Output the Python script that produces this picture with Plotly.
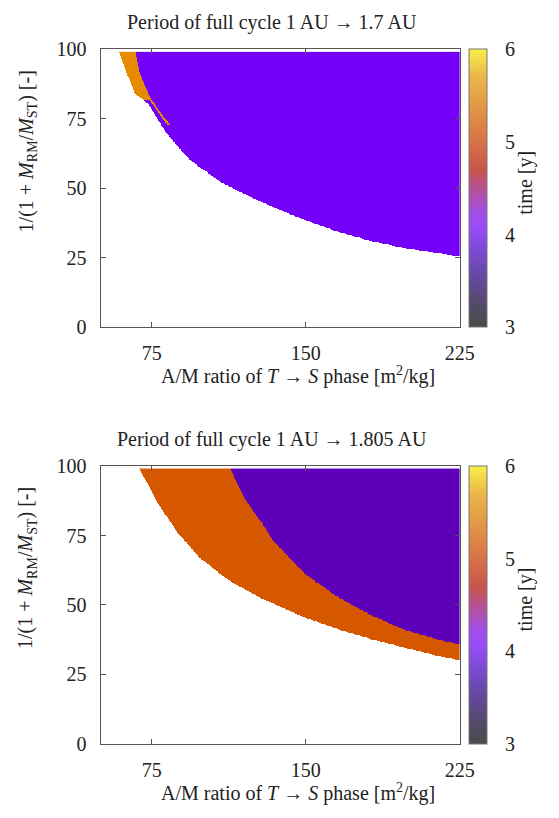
import numpy as np
import plotly.graph_objects as go

W, H = 559, 818

# ---------------- data ----------------
# Top panel: 1 AU -> 1.7 AU
top_title = "Period of full cycle 1 AU → 1.7 AU"
top_lower_x = [59.0, 66.6, 72.9, 82.4, 93.5, 109.2, 125.1, 136.1, 149.5, 165.4, 181.1, 196.9, 212.7, 225.0]
top_lower_y = [99.0, 84.2, 80.7, 69.6, 60.2, 52.0, 46.2, 42.7, 38.6, 34.5, 31.2, 28.7, 26.9, 25.6]
top_orange_edge_y = [82.0, 91.8, 99.0]
top_orange_edge_x = [74.5, 69.0, 67.1]
top_sliver_y = [72.8, 82.0]
top_sliver_x = [83.2, 74.2]
top_time_main = 3.65     # purple region
top_time_alt = 5.35      # orange region

# Bottom panel: 1 AU -> 1.805 AU
bot_title = "Period of full cycle 1 AU → 1.805 AU"
bot_lower_x = [69.0, 77.7, 87.2, 98.2, 112.4, 128.2, 149.5, 165.4, 181.1, 197.1, 212.7, 225.0]
bot_lower_y = [99.0, 86.9, 76.4, 67.1, 58.9, 52.5, 45.5, 41.4, 37.9, 34.9, 32.0, 30.1]
bot_mid_x = [113.2, 120.3, 128.2, 133.7, 149.5, 165.4, 181.1, 197.1, 212.7, 225.0]
bot_mid_y = [99.2, 88.1, 79.9, 73.5, 61.2, 53.0, 46.6, 41.4, 37.9, 35.8]
bot_time_main = 3.45     # purple region
bot_time_alt = 4.95      # orange region

x_ticks = [75, 150, 225]
y_ticks = [0, 25, 50, 75, 100]
c_ticks = [3, 4, 5, 6]
c_min, c_max = 3, 6

# ---------------- grid ----------------
xs = np.arange(50.0, 225.01, 0.25)
ys = np.arange(0.0, 99.01, 0.25)
X, Y = np.meshgrid(xs, ys)

# top
lb = np.interp(X, top_lower_x, top_lower_y, left=1e9, right=1e9)
inside = Y >= lb
z_top = np.where(inside, top_time_main, np.nan)
edge = np.interp(Y, top_orange_edge_y, top_orange_edge_x)
orange = inside & (Y >= 82.0) & (X <= edge)
sl = np.interp(Y, top_sliver_y, top_sliver_x)
sliver = inside & (Y >= top_sliver_y[0]) & (Y < 82.0) & (np.abs(X - sl) <= 0.6)
z_top = np.where(orange | sliver, top_time_alt, z_top)

# bottom
lb2 = np.interp(X, bot_lower_x, bot_lower_y, left=1e9, right=1e9)
inside2 = Y >= lb2
mid = np.interp(X, bot_mid_x, bot_mid_y, left=1e9)
z_bot = np.where(inside2, np.where(Y < mid, bot_time_alt, bot_time_main), np.nan)

# ---------------- palettes ----------------
def n(v):
    return (v - c_min) / (c_max - c_min)

fill_scale = [
    [0.0, "#4a4a4a"],
    [n(bot_time_main), "#5d00b9"],
    [n(top_time_main), "#7500f7"],
    [n(bot_time_alt), "#d55800"],
    [n(top_time_alt), "#e68a00"],
    [1.0, "#f5ee50"],
]
bar_scale = [
    [0.00, "#4b4b4b"],
    [0.07, "#524a62"],
    [0.15, "#5f4890"],
    [0.27, "#7a4ad4"],
    [0.36, "#9a4cfa"],
    [0.41, "#a04ee6"],
    [0.46, "#ad50b8"],
    [0.52, "#bc5280"],
    [0.56, "#c5554c"],
    [0.66, "#d67048"],
    [0.78, "#e19446"],
    [0.90, "#ebb54a"],
    [1.00, "#f8f048"],
]

FONT = dict(family="Liberation Serif", size=20, color="#222222")

def py(p):
    return 1 - p / H

def px(p):
    return p / W

x_dom = [px(103.3), px(472.3)]
top_dom = [py(325), py(39.5)]
bot_dom = [py(753), py(467.7)]
cb_left, cb_thick = 481.7, 17.6

fig = go.Figure()
shapes = []

for i, (z, dom) in enumerate([(z_top, top_dom), (z_bot, bot_dom)]):
    xa = "x" if i == 0 else "x2"
    ya = "y" if i == 0 else "y2"
    fig.add_trace(go.Heatmap(
        x=xs, y=ys, z=z, xaxis=xa, yaxis=ya,
        colorscale=fill_scale, zmin=c_min, zmax=c_max, showscale=False,
        zsmooth=False, hoverinfo="skip",
    ))
    fig.add_trace(go.Scatter(
        x=[None], y=[None], xaxis=xa, yaxis=ya, mode="markers", showlegend=False,
        marker=dict(
            color=[c_min, c_max], colorscale=bar_scale, cmin=c_min, cmax=c_max, showscale=True,
            colorbar=dict(
                x=px(cb_left), xanchor="left", xpad=0,
                y=(dom[0] + dom[1]) / 2, yanchor="middle", ypad=0,
                len=dom[1] - dom[0], lenmode="fraction",
                thickness=cb_thick, thicknessmode="pixels",
                outlinecolor="#777777", outlinewidth=1,
                tickvals=c_ticks, ticks="outside", ticklen=14,
                tickcolor="rgba(0,0,0,0)", tickfont=FONT,
            ),
        ),
    ))
    # small inside tick marks on both edges of the colour bar
    for v in c_ticks[1:-1]:
        yv = dom[0] + n(v) * (dom[1] - dom[0])
        for x0, x1 in [(cb_left, cb_left + 4), (cb_left + cb_thick - 4, cb_left + cb_thick)]:
            shapes.append(dict(type="line", xref="paper", yref="paper",
                               x0=px(x0), x1=px(x1), y0=yv, y1=yv,
                               line=dict(color="#666666", width=1)))

axis_common = dict(
    showline=True, linecolor="#555555", linewidth=1, mirror="ticks",
    ticks="inside", ticklen=5, tickcolor="#555555", showgrid=False,
    zeroline=False, tickfont=FONT,
)

fig.update_layout(
    width=W, height=H,
    margin=dict(l=0, r=0, t=0, b=0),
    paper_bgcolor="white", plot_bgcolor="white",
    font=FONT, showlegend=False, shapes=shapes,
    xaxis=dict(domain=x_dom, range=[50, 225], tickvals=x_ticks, anchor="y",
               ticklabelstandoff=8, **axis_common),
    yaxis=dict(domain=top_dom, range=[0, 100], tickvals=y_ticks, anchor="x",
               ticklabelstandoff=9, **axis_common),
    xaxis2=dict(domain=x_dom, range=[50, 225], tickvals=x_ticks, anchor="y2",
                ticklabelstandoff=8, **axis_common),
    yaxis2=dict(domain=bot_dom, range=[0, 100], tickvals=y_ticks, anchor="x2",
                ticklabelstandoff=9, **axis_common),
)

xtitle = "A/M ratio of <i>T</i> → <i>S</i> phase [m<sup>2</sup>/kg]"
ytitle = "1/(1 + <i>M</i><sub>RM</sub>/<i>M</i><sub>ST</sub>) [-]"
ann = []
for off, t in [(0, top_title), (428.2, bot_title)]:
    ann.append(dict(text=t, x=px(279), y=py(12 + off), xref="paper", yref="paper",
                    xanchor="center", yanchor="middle", showarrow=False, font=FONT))
    ann.append(dict(text=xtitle, x=px(306), y=py(375 + off), xref="paper", yref="paper",
                    xanchor="center", yanchor="middle", showarrow=False, font=FONT))
    ann.append(dict(text=ytitle, x=px(28), y=py(144 + off), xref="paper", yref="paper",
                    xanchor="center", yanchor="middle", textangle=-90,
                    showarrow=False, font=FONT))
    ann.append(dict(text="time [y]", x=px(540), y=py(177 + off), xref="paper", yref="paper",
                    xanchor="center", yanchor="middle", textangle=-90,
                    showarrow=False, font=FONT))
fig.update_layout(annotations=ann)

fig.write_html("out.html")
